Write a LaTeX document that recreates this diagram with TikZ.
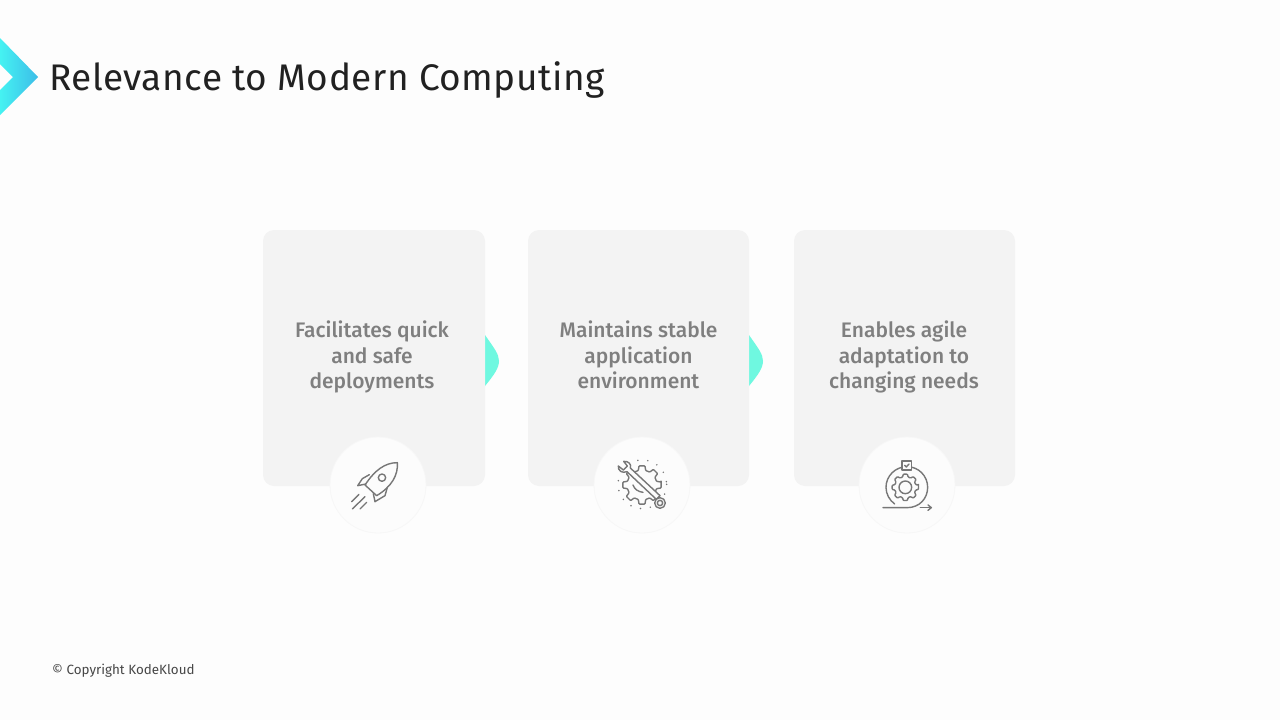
\documentclass[tikz,border=0pt]{standalone}
\usepackage{fontspec}
\setmainfont{Fira Sans}
\newfontfamily\cardfont{Fira Sans Medium}
\newfontfamily\titlefont[LetterSpace=1.3]{Fira Sans}
\usetikzlibrary{shadings}
\definecolor{pagebg}{HTML}{FDFDFD}
\definecolor{cardbg}{HTML}{F3F3F3}
\definecolor{disc}{HTML}{FCFCFC}
\definecolor{discedge}{HTML}{F7F7F7}
\definecolor{cardtext}{HTML}{7F7F7F}
\definecolor{icon}{HTML}{777777}
\definecolor{teal}{HTML}{6FF8E0}
\definecolor{chevA}{HTML}{45F2F2}
\definecolor{chevB}{HTML}{3CBDE8}
\tikzset{
  cardbox/.style={fill=cardbg,draw=none,rounded corners=11pt},
  cardlabel/.style={font=\fontsize{21}{25.5}\selectfont\cardfont,text=cardtext,align=center,anchor=center},
  discnode/.style={circle,minimum size=96pt,inner sep=0pt,fill=disc,draw=discedge,line width=0.8pt},
  tealtab/.style={fill=teal,draw=none},
  iconline/.style={draw=icon,line width=1.4pt,line cap=round,line join=round},
}
\begin{document}
\begin{tikzpicture}[x=1pt,y=-1pt]
\path[use as bounding box,fill=pagebg] (0,0) rectangle (1280,720);
% header chevron
\path[left color=chevA,right color=chevB,draw=none] (0,38) -- (38,77) -- (0,115) -- (0,90) -- (13,77) -- (0,64) -- cycle;
\node[anchor=base west,inner sep=0pt,text=black!87,font=\fontsize{37}{40}\selectfont\titlefont] (title) at (49,90.5) {Relevance to Modern Computing};
% tabs
\path[tealtab] (485,335) .. controls (494,348) and (499,354) .. (499,361) .. controls (499,368) and (494,375) .. (485,386) -- cycle;
\path[tealtab] (749,335) .. controls (758,348) and (763,354) .. (763,361) .. controls (763,368) and (758,375) .. (749,386) -- cycle;
% cards
\path[cardbox] (263,230) rectangle (485,486);
\path[cardbox] (528,230) rectangle (749,486);
\path[cardbox] (794,230) rectangle (1015,486);
\node[cardlabel] (t1) at (372,357) {Facilitates quick\\and safe\\deployments};
\node[cardlabel] (t2) at (638.5,355) {Maintains stable\\application\\environment};
\node[cardlabel] (t3) at (904,357) {Enables agile\\adaptation to\\changing needs};
% discs
\node[discnode] (d1) at (378,485) {};
\node[discnode] (d2) at (642,485) {};
\node[discnode] (d3) at (907,485) {};
% rocket
\begin{scope}[shift={(320,430)},x=0.3333pt,y=-0.3333pt,iconline]
\draw (232,98) .. controls (195,98) and (165,120) .. (135,165) -- (170,197) .. controls (215,170) and (235,135) .. (232,98) -- cycle;
\draw (186,143) circle[radius=11];
\draw (148,134) -- (127,146) -- (113,167) -- (138,162);
\draw (202,172) -- (195,197) -- (165,215) -- (160,191);
\draw (95,215) -- (117,193);
\draw (97,237) -- (135,200);
\draw (120,237) -- (140,217);
\end{scope}
% wrench and gear
\begin{scope}[shift={(588,430)},x=0.3333pt,y=-0.3333pt,iconline]
\draw[dash pattern=on 0pt off 10pt,line width=1.7pt] (163,163) circle[radius=73];
\draw[rounded corners=0.8pt] ({162+58*cos(9)},{165-58*sin(9)})
  foreach \a in {0,45,...,315} {
    -- ({162+58*cos(\a+9)},{165-58*sin(\a+9)})
    -- ({162+45*cos(\a+14)},{165-45*sin(\a+14)})
    -- ({162+45*cos(\a+31)},{165-45*sin(\a+31)})
    -- ({162+58*cos(\a+36)},{165-58*sin(\a+36)})
  } -- cycle;
\draw (135,165) .. controls (140,178) and (150,185) .. (165,187);
\draw[fill=disc] (117,125) -- (205,208) -- (216,197) -- (127,114)
   .. controls (131,103) and (122,93) .. (107,94) -- (118,108) -- (106,120) -- (91,108) .. controls (89,122) and (103,131) .. (117,125) -- cycle;
\draw[fill=disc] (216,219) circle[radius=16];
\draw (216,219) circle[radius=8];
\end{scope}
% gear in loop
\begin{scope}[shift={(852,430)},x=0.3333pt,y=-0.3333pt,iconline]
\draw (93,233) -- (165,233) .. controls (203,233) and (227,205) .. (227,172) .. controls (227,138) and (200,110) .. (165,110) .. controls (130,110) and (102,138) .. (102,172) .. controls (102,192) and (112,210) .. (128,222);
\draw[rounded corners=0.8pt] ({160+40*cos(9)},{172-40*sin(9)})
  foreach \a in {0,45,...,315} {
    -- ({160+40*cos(\a+9)},{172-40*sin(\a+9)})
    -- ({160+32*cos(\a+15)},{172-32*sin(\a+15)})
    -- ({160+32*cos(\a+30)},{172-32*sin(\a+30)})
    -- ({160+40*cos(\a+36)},{172-40*sin(\a+36)})
  } -- cycle;
\draw (160,172) circle[radius=19];
\draw[fill=disc] (150,93) rectangle (178,120);
\draw (158,106) -- (163,111) -- (171,102);
\draw (205,233) -- (238,233);
\draw (228,225) -- (238,233) -- (228,241);
\end{scope}
\node[anchor=base west,inner sep=0pt,text=black!72,font=\fontsize{13.4}{15}\selectfont] (copy) at (52,674.5) {© Copyright KodeKloud};
\end{tikzpicture}
\end{document}
